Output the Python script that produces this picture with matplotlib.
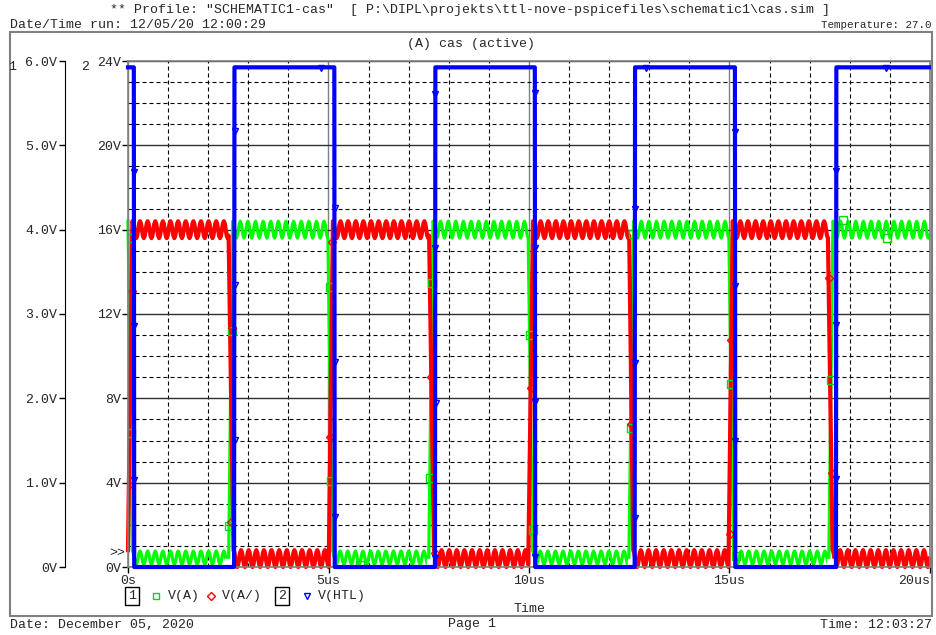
import numpy as np
import matplotlib
matplotlib.use("Agg")
import matplotlib.pyplot as plt
from matplotlib.lines import Line2D
from matplotlib.patches import Rectangle
from matplotlib.ticker import MultipleLocator

# ---- data (time in us) ----
t_end = 20.0
ripple_shape = [1.0, 0.71, 0.0, -0.71, -1.0, -0.71, 0.0, 0.71]  # one ripple cycle
ripple_period = 0.19

# V(A), axis 1
va_edges = [0.06, 2.56, 5.05, 7.555, 10.04, 12.56, 15.05, 17.53]
va_high, va_low = 4.0, 0.11
va_amp_high, va_amp_low = 0.10, 0.08
va_mark_t = [0.02, 0.07, 2.59, 2.52, 5.04, 5.06, 5.79, 7.58, 7.53, 10.02, 10.10,
             12.59, 12.54, 15.04, 15.16, 17.53, 17.83, 18.93]
va_mark_v = [3.90, 1.59, 2.80, 0.49, 3.32, 1.02, 0.02, 3.37, 1.06, 2.75, 0.44,
             3.95, 1.65, 2.17, 0.13, 2.22, 4.11, 3.90]

# V(A/), axis 1
vab_edges = [0.06, 2.58, 5.06, 7.58, 10.05, 12.55, 15.03, 17.52]
vab_high, vab_low = 4.0, 0.10
vab_amp_high, vab_amp_low = 0.10, 0.10
vab_mark_t = [0.10, 0.02, 2.59, 2.57, 5.09, 5.04, 7.56, 7.66, 10.05, 12.54,
              15.04, 15.01, 17.48, 17.56]
vab_mark_v = [3.27, 0.97, 2.83, 0.53, 3.85, 1.54, 2.25, 0.17, 2.12, 1.70,
              2.69, 0.39, 3.43, 1.11]

# V(HTL), axis 2
htl_edges = [0.15, 2.65, 5.15, 7.66, 10.15, 12.64, 15.14, 17.66]
htl_high, htl_low = 23.7, 0.0
htl_mark_t = [0.15, 0.15, 0.15, 2.67, 2.67, 2.67, 4.81, 5.16, 5.16, 5.16,
              7.66, 7.66, 7.68, 7.66, 10.15, 10.15, 10.15, 10.15, 12.92,
              12.64, 12.64, 12.64, 15.14, 15.14, 15.14, 17.66, 17.66, 17.66, 18.90]
htl_mark_v = [18.74, 11.43, 4.13, 20.68, 13.38, 6.02, 23.67, 17.03, 9.72, 2.37,
              22.44, 15.13, 7.78, 0.43, 22.49, 15.13, 7.83, 0.47, 23.67,
              16.98, 9.68, 2.32, 20.64, 13.33, 5.98, 18.79, 11.48, 4.17, 23.67]

spot_t = [2.49, 7.53, 12.54, 17.51]
spot_v = [0.06, 0.06, 0.06, 0.06]

x_ticks = [0, 5, 10, 15, 20]
x_labels = ["0s", "5us", "10us", "15us", "20us"]
y1_ticks = [0, 1, 2, 3, 4, 5, 6]
y1_labels = ["0V", "1.0V", "2.0V", "3.0V", "4.0V", "5.0V", "6.0V"]
y2_ticks = [0, 4, 8, 12, 16, 20, 24]
y2_labels = ["0V", "4V", "8V", "12V", "16V", "20V", "24V"]


def build_trace(edges, high, low, amp_high, amp_low, start_high, edge_time):
    step = ripple_period / len(ripple_shape)
    bounds = [0.0] + list(edges) + [t_end]
    ts, vs = [], []
    state = start_high
    for i in range(len(bounds) - 1):
        a = bounds[i] + (edge_time / 2 if i > 0 else 0.0)
        b = bounds[i + 1] - (edge_time / 2 if i < len(bounds) - 2 else 0.0)
        level = high if state else low
        amp = amp_high if state else amp_low
        if amp > 0:
            n = max(int((b - a) / step) + 1, 1)
            ts.append(a + np.arange(n) * step)
            vs.append(level + amp * np.resize(ripple_shape, n))
        else:
            ts.append(np.array([a, b]))
            vs.append(np.array([level, level]))
        state = not state
    return np.concatenate(ts), np.concatenate(vs)


W, H = 937, 635


def fx(x):
    return x / W


def fy(y):
    return 1 - y / H


TXT = "#262626"
plt.rcParams["font.family"] = ["Liberation Mono", "DejaVu Sans Mono"]
plt.rcParams["font.size"] = 9.5
plt.rcParams["text.color"] = TXT
plt.rcParams["xtick.labelcolor"] = TXT
plt.rcParams["ytick.labelcolor"] = TXT

fig = plt.figure(figsize=(W / 100, H / 100), dpi=100)
pos = [fx(128), fy(567), (930 - 128) / W, (567 - 61) / H]

ax1 = fig.add_axes(pos)
ax2 = fig.add_axes(pos)
ax2.patch.set_visible(False)

# grid on the lower axes
ax1.set_xlim(0, t_end)
ax1.set_ylim(0, 6)
ax1.xaxis.set_major_locator(MultipleLocator(5))
ax1.xaxis.set_minor_locator(MultipleLocator(1))
ax1.yaxis.set_minor_locator(MultipleLocator(0.25))
ax1.set_yticks(y1_ticks)
ax1.set_yticklabels(y1_labels)
dash = (0, (3.6, 2.7))
ax1.xaxis.grid(True, which="minor", color="black", lw=0.8, ls=dash)
ax1.yaxis.grid(True, which="minor", color="black", lw=0.8, ls=dash)
ax1.xaxis.grid(True, which="major", color="#808080", lw=1.0)
ax1.yaxis.grid(True, which="major", color="#303030", lw=1.0)
ax1.tick_params(axis="x", which="both", length=0, labelbottom=False)
ax1.tick_params(axis="y", which="minor", length=0)
ax1.tick_params(axis="y", which="major", direction="out", length=4.3, width=1,
                pad=1.4, labelsize=9.5)
for s in ["top", "right", "bottom"]:
    ax1.spines[s].set_visible(False)
ax1.spines["left"].set_position(("outward", 45.4))
ax1.spines["left"].set_color("black")

t_va, v_va = build_trace(va_edges, va_high, va_low, va_amp_high, va_amp_low, True, 0.1)
t_vab, v_vab = build_trace(vab_edges, vab_high, vab_low, vab_amp_high, vab_amp_low, False, 0.1)
ax1.plot(t_va, v_va, color="#00ff00", lw=2.3, clip_on=False, zorder=2)
ax1.plot(t_vab, v_vab, color="#ff0000", lw=3.0, clip_on=False, zorder=3)
ax1.plot(va_mark_t, va_mark_v, ls="none", marker="s", ms=6, mfc="none",
         mec="#00dd00", mew=1, zorder=4)
ax1.plot(vab_mark_t, vab_mark_v, ls="none", marker="D", ms=4, mfc="none",
         mec="#ff0000", mew=1, zorder=4)
ax1.plot(spot_t, spot_v, ls="none", marker="s", ms=4.5, mfc="white", mec="white",
         zorder=5)

# axis 2 on top
ax2.set_xlim(0, t_end)
ax2.set_ylim(0, 24)
t_htl, v_htl = build_trace(htl_edges, htl_high, htl_low, 0, 0, True, 0.01)
ax2.plot(t_htl, v_htl, color="#0000ff", lw=3.0, clip_on=False, zorder=3)
ax2.plot(htl_mark_t, htl_mark_v, ls="none", marker="v", ms=5, mfc="none",
         mec="#0000ff", mew=1, zorder=4)
ax2.set_xticks(x_ticks)
ax2.set_xticklabels(x_labels)
ax2.set_yticks(y2_ticks)
ax2.set_yticklabels(y2_labels)
ax2.tick_params(axis="both", direction="out", length=4.3, width=1, pad=0.8,
                labelsize=9.5)
ax2.tick_params(axis="x", pad=1.5)
ax2.get_xticklabels()[-1].set_ha("right")
for s in ["top", "right", "bottom", "left"]:
    ax2.spines[s].set_color("#808080")
    ax2.spines[s].set_linewidth(1.2)

# outer frame and page text
fig.add_artist(Rectangle((fx(10), fy(616)), (932 - 10) / W, (616 - 32) / H,
                         transform=fig.transFigure, fill=False,
                         edgecolor="#808080", lw=1.5))
fig.text(fx(110), fy(10.5),
         '** Profile: "SCHEMATIC1-cas"  [ P:\\DIPL\\projekts\\ttl-nove-pspicefiles\\schematic1\\cas.sim ]',
         ha="left", va="center")
fig.text(fx(10), fy(24.5), "Date/Time run: 12/05/20 12:00:29", ha="left", va="center")
fig.text(fx(932), fy(24.5), "Temperature: 27.0", ha="right", va="center", fontsize=7.8)
fig.text(fx(471), fy(44), "(A) cas (active)", ha="center", va="center")
fig.text(fx(12.5), fy(67), "1", ha="center", va="center")
fig.text(fx(85), fy(67), "2", ha="center", va="center")
fig.text(fx(117), fy(553), ">>", ha="center", va="center")

# legend row
fig.text(fx(132), fy(596), "1", ha="center", va="center",
         bbox=dict(boxstyle="square,pad=0.25", fc="white", ec="black", lw=1))
fig.text(fx(282), fy(596), "2", ha="center", va="center",
         bbox=dict(boxstyle="square,pad=0.25", fc="white", ec="black", lw=1))
fig.add_artist(Line2D([fx(156)], [fy(596)], transform=fig.transFigure, ls="none",
                      marker="s", ms=5, mfc="none", mec="#00dd00", mew=1))
fig.add_artist(Line2D([fx(211)], [fy(596)], transform=fig.transFigure, ls="none",
                      marker="D", ms=4, mfc="none", mec="#ff0000", mew=1))
fig.add_artist(Line2D([fx(307)], [fy(596)], transform=fig.transFigure, ls="none",
                      marker="v", ms=5, mfc="none", mec="#0000ff", mew=1))
fig.text(fx(168), fy(596), "V(A)", ha="left", va="center")
fig.text(fx(222), fy(596), "V(A/)", ha="left", va="center")
fig.text(fx(318), fy(596), "V(HTL)", ha="left", va="center")
fig.text(fx(529), fy(609), "Time", ha="center", va="center")

fig.text(fx(10), fy(624.5), "Date: December 05, 2020", ha="left", va="center")
fig.text(fx(448), fy(624.5), "Page 1", ha="left", va="center")
fig.text(fx(932), fy(624.5), "Time: 12:03:27", ha="right", va="center")

fig.savefig("out.png", dpi=100, facecolor="white")
